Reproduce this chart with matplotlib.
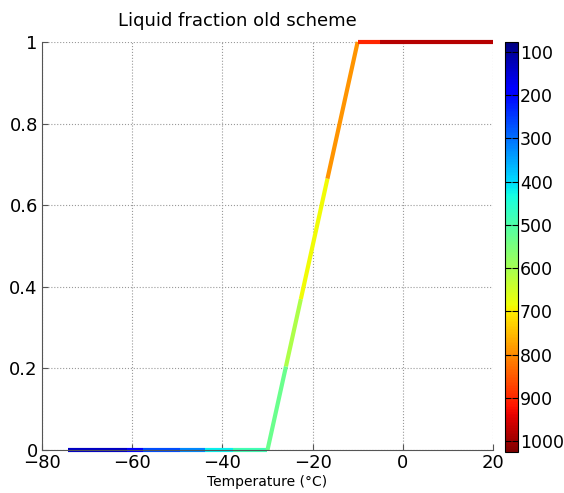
import numpy as np
import matplotlib
matplotlib.use('Agg')
import matplotlib.pyplot as plt
from matplotlib.collections import LineCollection
from matplotlib.colors import Normalize
from matplotlib.ticker import FuncFormatter

# temperature at each vertex of the profile (deg C)
temp_pts = [-74.2, -61.2, -57.6, -49.4, -43.8, -37.6, -30.0, -25.9, -22.6, -16.7, -10.0, -5.0, 20.0]
# pressure (hPa) used to colour each segment between two vertices
seg_pres = [135, 190, 267, 325, 420, 485, 530, 610, 685, 788, 900, 980]
p_min, p_max = 77, 1025
cbar_ticks = [100, 200, 300, 400, 500, 600, 700, 800, 900, 1000]


def liquid_fraction(t):
    '''Old scheme: linear ramp between -30 and -10 degrees.'''
    return np.clip((np.asarray(t) + 30.0) / 20.0, 0.0, 1.0)


def fmt(v, pos):
    return '{:g}'.format(round(v, 2))


t = np.array(temp_pts)
f = liquid_fraction(t)
pts = np.column_stack([t, f])
segs = np.stack([pts[:-1], pts[1:]], axis=1)

fig = plt.figure(figsize=(5.64, 4.93), dpi=100)
ax = fig.add_axes([0.0745, 0.087, 0.7995, 0.828])
cax = fig.add_axes([0.896, 0.083, 0.023, 0.832])

norm = Normalize(p_min, p_max)
lc = LineCollection(segs, cmap='jet', norm=norm, linewidths=3.0, capstyle='butt')
lc.set_array(np.array(seg_pres, dtype=float))
lc.set_clip_on(False)
ax.add_collection(lc)

ax.set_xlim(-80, 20)
ax.set_ylim(0, 1)
ax.set_xticks(np.arange(-80, 21, 20))
ax.set_yticks(np.arange(0, 1.01, 0.2))
ax.yaxis.set_major_formatter(FuncFormatter(fmt))
ax.grid(True, linestyle=':', color='#999999', linewidth=0.8)
ax.spines['top'].set_visible(False)
ax.spines['right'].set_visible(False)
for s in ['left', 'bottom']:
    ax.spines[s].set_color('#555555')
ax.tick_params(direction='in', length=4, labelsize=13, color='#555555', pad=3)
ax.set_xlabel('Temperature (°C)', fontsize=10, labelpad=2)
fig.text(0.42, 0.958, 'Liquid fraction old scheme', fontsize=13, ha='center', va='center')

cb = fig.colorbar(lc, cax=cax)
cb.set_ticks(cbar_ticks)
cax.invert_yaxis()
cax.tick_params(direction='in', length=4, labelsize=12.5, right=True, left=True, pad=1)
cb.outline.set_linewidth(0.8)

plt.savefig('out.png', dpi=100)
plt.close()
